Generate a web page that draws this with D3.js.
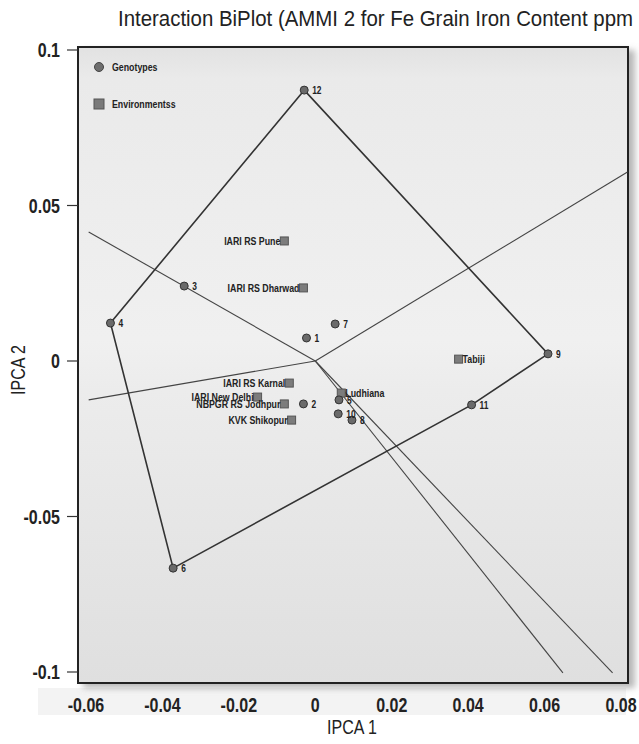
<!DOCTYPE html>
<html>
<head>
<meta charset="utf-8">
<script src="https://cdn.jsdelivr.net/npm/d3@7"></script>
<style>
  body { margin: 0; background: #fff; }
  #chart { width: 639px; height: 744px; }
  text { font-family: "Liberation Sans", Arial, sans-serif; fill: #222; }
</style>
</head>
<body>
<div id="chart"></div>
<script>
// Genotypes (IPCA 1, IPCA 2)
var genoNames = ["1", "2", "3", "4", "5", "6", "7", "8", "9", "10", "11", "12"];
var genoX = [-0.0023, -0.0031, -0.0343, -0.0536, 0.0062, -0.0372, 0.0052, 0.0096, 0.0609, 0.0060, 0.0409, -0.0029];
var genoY = [0.0074, -0.0138, 0.0241, 0.0122, -0.0125, -0.0666, 0.0119, -0.0190, 0.0023, -0.0170, -0.0141, 0.0871];

// Environments
var envNames = ["IARI RS Pune", "IARI RS Dharwad", "IARI RS Karnal", "IARI New Delhi", "NBPGR RS Jodhpur", "KVK Shikopur", "Ludhiana", "Tabiji"];
var envX = [-0.0081, -0.0031, -0.0068, -0.0151, -0.0081, -0.0062, 0.0068, 0.0375];
var envY = [0.0386, 0.0235, -0.0071, -0.0116, -0.0138, -0.0190, -0.0103, 0.0006];
var envLabelRight = ["Ludhiana", "Tabiji"];

// polygon vertices (genotype names) and rays from origin
var hull = ["12", "9", "11", "6", "4"];
var rayX = [-0.0593, -0.0593, 0.0817, 0.0648, 0.0778];
var rayY = [0.0415, -0.0125, 0.0608, -0.1003, -0.1003];

var xTicks = [-0.06, -0.04, -0.02, 0, 0.02, 0.04, 0.06, 0.08];
var yTicks = [0.1, 0.05, 0, -0.05, -0.1];

var W = 639, H = 744;
var frame = { left: 78, right: 628, top: 47, bottom: 683 };
var squeeze = 0.8; // fake a narrow font

var svg = d3.select("#chart").append("svg")
  .attr("width", W).attr("height", H);

var defs = svg.append("defs");
var grad = defs.append("linearGradient").attr("id", "bg")
  .attr("x1", 0).attr("y1", 0).attr("x2", 0).attr("y2", 1);
grad.append("stop").attr("offset", "0").attr("stop-color", "#e2e2e2");
grad.append("stop").attr("offset", "0.05").attr("stop-color", "#eaeaea");
grad.append("stop").attr("offset", "0.46").attr("stop-color", "#f0f0f0");
grad.append("stop").attr("offset", "0.54").attr("stop-color", "#ececec");
grad.append("stop").attr("offset", "1").attr("stop-color", "#dfdfdf");

var shadow = defs.append("filter").attr("id", "shadow")
  .attr("x", "-5%").attr("y", "-5%").attr("width", "115%").attr("height", "115%");
shadow.append("feDropShadow").attr("dx", 6).attr("dy", 4)
  .attr("stdDeviation", 3).attr("flood-color", "#888").attr("flood-opacity", 0.6);

// Scales
var x = d3.scaleLinear().domain([-0.06, 0.08]).range([86, 621]);
var y = d3.scaleLinear().domain([-0.1, 0.1]).range([672, 50]);

function place(px, py) {
  return "translate(" + px + "," + py + ") scale(" + squeeze + ",1)";
}

// light band behind x tick labels
svg.append("rect").attr("x", 38).attr("y", 688).attr("width", 588).attr("height", 27)
  .attr("fill", "#f3f3f3");

// frame
svg.append("rect")
  .attr("x", frame.left).attr("y", frame.top)
  .attr("width", frame.right - frame.left).attr("height", frame.bottom - frame.top)
  .attr("fill", "url(#bg)").attr("stroke", "#222").attr("stroke-width", 2)
  .attr("filter", "url(#shadow)");

// title
svg.append("text").attr("x", 118).attr("y", 26)
  .attr("font-size", 22)
  .attr("textLength", 515).attr("lengthAdjust", "spacingAndGlyphs")
  .text("Interaction BiPlot (AMMI 2 for Fe Grain Iron Content ppm");

// y axis ticks
var yAxis = svg.append("g");
yAxis.selectAll("line").data(yTicks).enter().append("line")
  .attr("x1", 67).attr("x2", frame.left)
  .attr("y1", function(d) { return y(d); }).attr("y2", function(d) { return y(d); })
  .attr("stroke", "#333").attr("stroke-width", 1.2);
yAxis.selectAll("text").data(yTicks).enter().append("text")
  .attr("transform", function(d) { return place(60, y(d) + 7); })
  .attr("text-anchor", "end").attr("font-size", 20).attr("font-weight", "bold")
  .text(function(d) { return d; });

// x axis labels
svg.append("g").selectAll("text").data(xTicks).enter().append("text")
  .attr("transform", function(d) { return place(x(d), 712); })
  .attr("text-anchor", "middle").attr("font-size", 20).attr("font-weight", "bold")
  .text(function(d) { return d; });

// axis titles
svg.append("text").attr("transform", place(352, 734)).attr("text-anchor", "middle")
  .attr("font-size", 20).text("IPCA 1");
svg.append("text").attr("transform", "translate(25,370) rotate(-90) scale(" + squeeze + ",1)")
  .attr("text-anchor", "middle")
  .attr("font-size", 20).text("IPCA 2");

// rays from origin
svg.append("g").selectAll("line").data(rayX).enter().append("line")
  .attr("x1", x(0)).attr("y1", y(0))
  .attr("x2", function(d) { return x(d); })
  .attr("y2", function(d, i) { return y(rayY[i]); })
  .attr("stroke", "#444").attr("stroke-width", 1.1);

// polygon
var hullPts = hull.map(function(n) {
  var i = genoNames.indexOf(n);
  return [x(genoX[i]), y(genoY[i])];
});
svg.append("path")
  .attr("d", d3.line().curve(d3.curveLinearClosed)(hullPts))
  .attr("fill", "none").attr("stroke", "#333").attr("stroke-width", 1.6);

// legend
svg.append("circle").attr("cx", 99).attr("cy", 67).attr("r", 4.5)
  .attr("fill", "#6e6e6e").attr("stroke", "#444");
svg.append("text").attr("transform", place(112, 71)).attr("font-size", 11).attr("font-weight", "bold").text("Genotypes");
svg.append("rect").attr("x", 94).attr("y", 99).attr("width", 10).attr("height", 10)
  .attr("fill", "#7a7a7a").attr("stroke", "#555");
svg.append("text").attr("transform", place(112, 108)).attr("font-size", 11).attr("font-weight", "bold").text("Environmentss");

// environments
var env = svg.append("g").selectAll("g").data(envNames).enter().append("g")
  .attr("transform", function(d, i) { return "translate(" + x(envX[i]) + "," + y(envY[i]) + ")"; });
env.append("rect").attr("x", -4).attr("y", -4).attr("width", 8).attr("height", 8)
  .attr("fill", "#7c7c7c").attr("stroke", "#555");
env.append("text")
  .attr("transform", function(d) { return place(envLabelRight.indexOf(d) >= 0 ? 4 : -4, 4); })
  .attr("text-anchor", function(d) { return envLabelRight.indexOf(d) >= 0 ? "start" : "end"; })
  .attr("font-size", 11).attr("font-weight", "bold")
  .text(function(d) { return d; });

// genotypes
var geno = svg.append("g").selectAll("g").data(genoNames).enter().append("g")
  .attr("transform", function(d, i) { return "translate(" + x(genoX[i]) + "," + y(genoY[i]) + ")"; });
geno.append("circle").attr("r", 4)
  .attr("fill", "#6a6a6a").attr("stroke", "#333");
geno.append("text").attr("transform", place(8, 4))
  .attr("font-size", 10.5).attr("font-weight", "bold")
  .text(function(d) { return d; });
</script>
</body>
</html>
